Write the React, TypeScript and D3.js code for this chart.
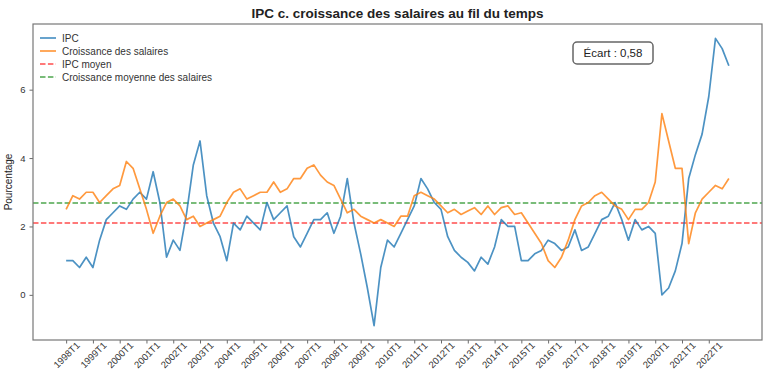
import React, { useRef, useEffect } from "react";
import * as d3 from "d3";

// quarterly data, 1998T1 .. 2022T4
const startYear = 1998;
const yearsCount = 25;

const ipc = [
  1.0, 1.0, 0.8, 1.1, 0.8, 1.6, 2.2, 2.4, 2.6, 2.5, 2.8, 3.0, 2.8, 3.6, 2.7, 1.1,
  1.6, 1.3, 2.4, 3.8, 4.5, 2.9, 2.1, 1.7, 1.0, 2.1, 1.9, 2.3, 2.1, 1.9, 2.7, 2.2,
  2.4, 2.6, 1.7, 1.4, 1.8, 2.2, 2.2, 2.4, 1.8, 2.3, 3.4, 2.1, 1.2, 0.2, -0.9, 0.8,
  1.6, 1.4, 1.8, 2.2, 2.6, 3.4, 3.1, 2.7, 2.5, 1.7, 1.3, 1.1, 0.95, 0.7, 1.1, 0.9,
  1.4, 2.2, 2.0, 2.0, 1.0, 1.0, 1.2, 1.3, 1.6, 1.5, 1.3, 1.4, 1.9, 1.3, 1.4, 1.8,
  2.2, 2.3, 2.7, 2.2, 1.6, 2.2, 1.9, 2.0, 1.8, 0.0, 0.2, 0.7, 1.5, 3.4, 4.1, 4.7,
  5.8, 7.5, 7.2, 6.7,
];

const salaires = [
  2.5, 2.9, 2.8, 3.0, 3.0, 2.7, 2.9, 3.1, 3.2, 3.9, 3.7, 3.1, 2.5, 1.8, 2.3, 2.7,
  2.8, 2.6, 2.2, 2.3, 2.0, 2.1, 2.2, 2.3, 2.7, 3.0, 3.1, 2.8, 2.9, 3.0, 3.0, 3.3,
  3.0, 3.1, 3.4, 3.4, 3.7, 3.8, 3.5, 3.3, 3.2, 2.8, 2.4, 2.5, 2.3, 2.2, 2.1, 2.2,
  2.1, 2.0, 2.3, 2.3, 2.9, 3.0, 2.9, 2.8, 2.6, 2.4, 2.5, 2.35, 2.45, 2.55, 2.35, 2.6,
  2.35, 2.55, 2.6, 2.35, 2.4, 2.1, 1.8, 1.5, 1.0, 0.8, 1.1, 1.6, 2.2, 2.6, 2.7, 2.9,
  3.0, 2.8, 2.6, 2.5, 2.2, 2.5, 2.5, 2.7, 3.3, 5.3, 4.5, 3.7, 3.7, 1.5, 2.4, 2.8,
  3.0, 3.2, 3.1, 3.4,
];

const quarters = ipc.map((_, i) => `${startYear + Math.floor(i / 4)}T${(i % 4) + 1}`);
const yearTicks = d3.range(yearsCount).map((k) => `${startYear + k}T1`);
const yTicks = [0, 2, 4, 6];

const title = "IPC c. croissance des salaires au fil du temps";
const yLabel = "Pourcentage";
const ecartLabel = "Écart : 0,58";

const legendItems = [
  { label: "IPC", color: "#1f77b4", opacity: 0.8, dash: "" },
  { label: "Croissance des salaires", color: "#ff7f0e", opacity: 0.8, dash: "" },
  { label: "IPC moyen", color: "#ff0000", opacity: 0.7, dash: "5.5,2.4" },
  { label: "Croissance moyenne des salaires", color: "#008000", opacity: 0.7, dash: "5.5,2.4" },
];

const W = 768;
const H = 384;
const font = "'Liberation Sans', Arial, Helvetica, sans-serif";

const App = () => {
  const svgRef = useRef<SVGSVGElement | null>(null);

  useEffect(() => {
    const svg = d3.select(svgRef.current);
    svg.selectAll("*").remove();

    const left = 33,
      right = 762,
      top = 24,
      bottom = 340;

    const n = ipc.length;
    const pad = (n - 1) * 0.05;
    const x = d3.scaleLinear().domain([-pad, n - 1 + pad]).range([left, right]);

    const yMin = d3.min([...ipc, ...salaires]) as number;
    const yMax = d3.max([...ipc, ...salaires]) as number;
    const yPad = (yMax - yMin) * 0.05;
    const y = d3.scaleLinear().domain([yMin - yPad, yMax + yPad]).range([bottom, top]);

    svg.append("rect").attr("width", W).attr("height", H).attr("fill", "#fff");

    // title
    svg
      .append("text")
      .attr("x", (left + right) / 2)
      .attr("y", 18)
      .attr("text-anchor", "middle")
      .attr("font-family", font)
      .attr("font-weight", "bold")
      .attr("font-size", 13.5)
      .attr("fill", "#222")
      .text(title);

    // y axis
    const yAxis = d3.axisLeft(y).tickValues(yTicks).tickSize(3.5).tickPadding(4);
    const gy = svg.append("g").attr("transform", `translate(${left},0)`).call(yAxis);
    gy.select(".domain").remove();
    gy.selectAll("line").attr("stroke", "#444").attr("stroke-width", 0.8);
    gy.selectAll("text")
      .attr("font-family", font)
      .attr("font-size", 9.5)
      .attr("fill", "#333");

    // x axis, labels rotated around their centre
    const xAxis = d3
      .axisBottom(x)
      .tickValues(yearTicks.map((t) => quarters.indexOf(t)))
      .tickFormat((d) => quarters[d as number])
      .tickSize(3.5);
    const gx = svg.append("g").attr("transform", `translate(0,${bottom})`).call(xAxis);
    gx.select(".domain").remove();
    gx.selectAll("line").attr("stroke", "#444").attr("stroke-width", 0.8);
    gx.selectAll("text")
      .attr("font-family", font)
      .attr("font-size", 9.5)
      .attr("fill", "#333")
      .attr("text-anchor", "middle")
      .attr("y", 0)
      .attr("dy", "0.35em")
      .attr("transform", "translate(0,15) rotate(-45)");

    svg
      .append("text")
      .attr("transform", `translate(12,${(top + bottom) / 2}) rotate(-90)`)
      .attr("text-anchor", "middle")
      .attr("font-family", font)
      .attr("font-size", 10)
      .attr("fill", "#222")
      .text(yLabel);

    // mean lines
    const meanIpc = d3.mean(ipc) as number;
    const meanSal = d3.mean(salaires) as number;
    const means = [
      { v: meanIpc, item: legendItems[2] },
      { v: meanSal, item: legendItems[3] },
    ];
    svg
      .selectAll(".mean")
      .data(means)
      .join("line")
      .attr("class", "mean")
      .attr("x1", left)
      .attr("x2", right)
      .attr("y1", (d) => y(d.v))
      .attr("y2", (d) => y(d.v))
      .attr("stroke", (d) => d.item.color)
      .attr("stroke-opacity", (d) => d.item.opacity)
      .attr("stroke-width", 1.7)
      .attr("stroke-dasharray", (d) => d.item.dash);

    // series
    const myLine = d3
      .line<number>()
      .x((_, i) => x(i))
      .y((d) => y(d));

    svg
      .selectAll(".serie")
      .data([
        { values: ipc, item: legendItems[0] },
        { values: salaires, item: legendItems[1] },
      ])
      .join("path")
      .attr("class", "serie")
      .attr("d", (d) => myLine(d.values))
      .attr("fill", "none")
      .attr("stroke", (d) => d.item.color)
      .attr("stroke-opacity", (d) => d.item.opacity)
      .attr("stroke-width", 1.7)
      .attr("stroke-linejoin", "round");

    // frame
    svg
      .append("rect")
      .attr("x", left)
      .attr("y", top)
      .attr("width", right - left)
      .attr("height", bottom - top)
      .attr("fill", "none")
      .attr("stroke", "#777")
      .attr("stroke-width", 1.2);

    // legend
    const lg = svg.append("g").attr("transform", `translate(${left + 7},${top + 14})`);
    const rows = lg
      .selectAll("g")
      .data(legendItems)
      .join("g")
      .attr("transform", (_, i) => `translate(0,${i * 13})`);
    rows
      .append("line")
      .attr("x1", 0)
      .attr("x2", 16)
      .attr("stroke", (d) => d.color)
      .attr("stroke-opacity", (d) => d.opacity)
      .attr("stroke-width", 1.7)
      .attr("stroke-dasharray", (d) => d.dash);
    rows
      .append("text")
      .attr("x", 22)
      .attr("y", 3.5)
      .attr("font-family", font)
      .attr("font-size", 10)
      .attr("fill", "#333")
      .text((d) => d.label);

    // annotation
    const ax = 613,
      ay = 53;
    const box = svg.append("g").attr("transform", `translate(${ax},${ay})`);
    box
      .append("rect")
      .attr("x", -40)
      .attr("y", -11)
      .attr("width", 80)
      .attr("height", 22)
      .attr("rx", 4)
      .attr("fill", "#fff")
      .attr("stroke", "#666")
      .attr("stroke-width", 1.5);
    box
      .append("text")
      .attr("text-anchor", "middle")
      .attr("y", 4)
      .attr("font-family", font)
      .attr("font-size", 11.5)
      .attr("fill", "#222")
      .text(ecartLabel);
  }, []);

  return (
    <svg
      ref={svgRef}
      width={W}
      height={H}
      style={{ position: "absolute", left: 0, top: 0, display: "block" }}
    />
  );
};

export default App;
